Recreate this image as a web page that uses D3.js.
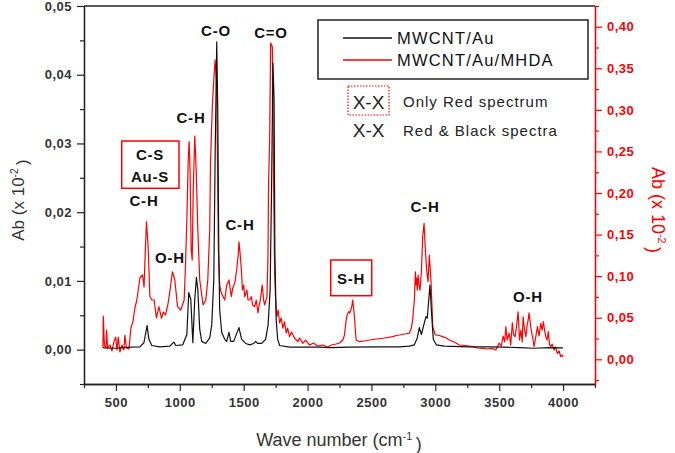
<!DOCTYPE html>
<html><head><meta charset="utf-8">
<script src="https://cdn.jsdelivr.net/npm/d3@7"></script>
<style>
body{margin:0;background:#fff;}
svg{display:block;font-family:"Liberation Sans",Arial,sans-serif;}
</style></head>
<body><svg id="c" width="675" height="453"></svg>
<script>
// ---- data ----
const blackWave = [400,492,609,687,719,744,758,781,844,922,953,969,1023,1055,1070,1086,1102,1117,1130,1141,1156,1172,1203,1234,1250,1266,1277,1289,1297,1305,1312,1328,1352,1367,1385,1398,1422,1438,1463,1484,1516,1547,1578,1594,1609,1641,1672,1691,1707,1719,1729,1738,1744,1754,1766,1781,1859,2094,2172,2328,2562,2719,2797,2836,2859,2875,2891,2910,2927,2937,2949,2958,2969,2984,3008,3070,3266,3422,3539,3656,3773,3891,4000];
const blackAb = [0.00025,0.0002,0.00036,0.0004,0.001,0.0035,0.0015,0.0006,0.0004,0.0005,0.0011,0.0006,0.0007,0.0022,0.0083,0.0073,0.001,0.0073,0.0105,0.0087,0.0029,0.0012,0.0009,0.0017,0.0036,0.0102,0.029,0.0448,0.0349,0.0145,0.0058,0.0025,0.0015,0.0012,0.0025,0.0012,0.0012,0.002,0.0032,0.0015,0.0009,0.0007,0.0009,0.0012,0.0009,0.0009,0.0015,0.0036,0.0087,0.0247,0.0417,0.0363,0.0145,0.0044,0.0015,0.0006,0.00036,0.00036,0.0003,0.00036,0.0004,0.0004,0.0005,0.0007,0.0017,0.0032,0.0022,0.0036,0.0048,0.0046,0.0073,0.0094,0.0058,0.0015,0.0007,0.0005,0.0004,0.0004,0.00036,0.0003,0.0002,0.0003,0.00025];

const redWave = [398,401,410,422,427,434,453,469,484,498,508,518,531,547,562,570,582,602,617,633,648,664,687,708,720,730,739,752,766,781,799,817,836,857,871,888,906,922,942,961,982,1007,1034,1044,1055,1066,1073,1080,1089,1097,1105,1117,1128,1141,1156,1182,1203,1219,1234,1240,1255,1266,1276,1287,1295,1302,1312,1326,1352,1367,1385,1403,1414,1430,1445,1457,1463,1474,1482,1490,1500,1508,1525,1534,1547,1560,1570,1586,1598,1612,1621,1630,1645,1656,1664,1682,1690,1695,1703,1711,1724,1729,1734,1742,1750,1760,1770,1781,1793,1807,1820,1833,1844,1859,1875,1898,1912,1924,1937,1963,1984,2016,2047,2078,2120,2156,2188,2224,2250,2276,2289,2302,2312,2322,2331,2341,2347,2353,2358,2367,2380,2406,2445,2484,2539,2588,2625,2666,2695,2719,2758,2797,2812,2823,2830,2836,2844,2849,2854,2859,2865,2873,2880,2891,2901,2912,2922,2932,2943,2953,2967,2980,3000,3031,3057,3086,3109,3148,3188,3234,3291,3328,3370,3406,3445,3474,3500,3516,3531,3543,3552,3562,3578,3590,3603,3613,3625,3637,3648,3659,3670,3680,3687,3698,3709,3719,3727,3734,3745,3755,3766,3773,3785,3799,3812,3825,3836,3846,3855,3865,3875,3885,3894,3904,3914,3930,3941,3955,3969,3982,3992,4000];
const redAb = [0.0136,0.052,0.016,0.0148,0.035,0.0136,0.0172,0.010,0.021,0.0268,0.0112,0.0268,0.0088,0.0172,0.0112,0.029,0.0136,0.0124,0.0376,0.045,0.0617,0.0713,0.0978,0.1014,0.0869,0.131,0.1655,0.1354,0.0753,0.0713,0.0713,0.0497,0.0633,0.0493,0.0569,0.0533,0.0653,0.0813,0.1053,0.0954,0.0633,0.0593,0.0713,0.1114,0.1675,0.2397,0.2617,0.2276,0.1314,0.1194,0.2036,0.2685,0.2276,0.1555,0.0954,0.0653,0.0713,0.0954,0.1555,0.236,0.3058,0.3359,0.36,0.3359,0.2397,0.1314,0.0893,0.0794,0.0713,0.0893,0.0954,0.0753,0.0857,0.0917,0.1074,0.1254,0.1414,0.1234,0.1074,0.0833,0.0893,0.0753,0.0833,0.0713,0.0713,0.0753,0.0653,0.0633,0.0713,0.0557,0.0653,0.0713,0.0893,0.0713,0.0653,0.0753,0.1234,0.2136,0.2637,0.3804,0.3759,0.3202,0.2155,0.1038,0.0713,0.0512,0.0593,0.0437,0.0497,0.0376,0.045,0.0316,0.0376,0.0272,0.0328,0.0253,0.0232,0.0212,0.0256,0.0192,0.0232,0.0172,0.0196,0.016,0.0172,0.0148,0.0172,0.0184,0.0196,0.0232,0.0293,0.0473,0.0545,0.0572,0.0557,0.0613,0.0641,0.0713,0.0653,0.0512,0.0232,0.0212,0.022,0.0232,0.0244,0.0253,0.0262,0.0272,0.0286,0.0292,0.0304,0.0313,0.0376,0.0473,0.0617,0.0713,0.1053,0.0893,0.0974,0.0833,0.1014,0.0893,0.0833,0.1053,0.1474,0.1635,0.1314,0.1074,0.0933,0.1254,0.0914,0.0392,0.0292,0.0286,0.0272,0.0256,0.0232,0.0208,0.0172,0.0166,0.0152,0.0136,0.0132,0.0124,0.0132,0.0112,0.0196,0.016,0.028,0.0208,0.0392,0.0232,0.0316,0.0172,0.0437,0.0292,0.0272,0.0412,0.0572,0.0232,0.0352,0.0208,0.0512,0.0352,0.0272,0.0412,0.0473,0.056,0.0412,0.0313,0.0232,0.0152,0.0256,0.0392,0.028,0.0433,0.0352,0.0452,0.0352,0.0272,0.0232,0.0332,0.0172,0.0152,0.0184,0.0112,0.0148,0.0072,0.01,0.0031,0.0052,0.0028];

const xTicks = [500,1000,1500,2000,2500,3000,3500,4000];
const xMinor = [250,750,1250,1750,2250,2750,3250,3750,4250];
const leftTicks = [0,0.01,0.02,0.03,0.04,0.05];
const leftMinor = [-0.005,0.005,0.015,0.025,0.035,0.045];
const rightTicks = [0,0.05,0.10,0.15,0.20,0.25,0.30,0.35,0.40];
const rightMinor = [-0.025,0.025,0.075,0.125,0.175,0.225,0.275,0.325,0.375,0.425];
const seriesNames = ["MWCNT/Au","MWCNT/Au/MHDA"];

// ---- layout ----
const L=84, R=595, T=6, B=384;
const svg=d3.select("#c");
const x=d3.scaleLinear().domain([250,4250]).range([L,R]);
const yL=d3.scaleLinear().domain([-0.005,0.05]).range([B,T]);
const yR=d3.scaleLinear().domain([-0.0297,0.4249]).range([B,T]);
const comma = f => v => d3.format(f)(v).replace(".",",");

// frame top line
svg.append("line").attr("x1",L).attr("x2",R).attr("y1",T).attr("y2",T).attr("stroke","#222").attr("stroke-width",1.3);

// lines
const redPts = redWave.map((w,i)=>[w,redAb[i]]);
const blkPts = blackWave.map((w,i)=>[w,blackAb[i]]);
svg.append("path").attr("d",d3.line().x(d=>x(d[0])).y(d=>yR(d[1]))(redPts))
  .attr("fill","none").attr("stroke","#ff0000").attr("stroke-width",1.2).attr("stroke-linejoin","round");
svg.append("path").attr("d",d3.line().x(d=>x(d[0])).y(d=>yL(d[1]))(blkPts))
  .attr("fill","none").attr("stroke","#111").attr("stroke-width",1.2).attr("stroke-linejoin","round");

function styleAxis(g,color){
  g.select(".domain").attr("stroke",color).attr("stroke-width",1.3);
  g.selectAll(".tick line").attr("stroke",color).attr("stroke-width",1.2);
}
// bottom
const gx=svg.append("g").attr("transform",`translate(0,${B})`)
  .call(d3.axisBottom(x).tickValues(xTicks).tickSize(7).tickPadding(7).tickFormat(d3.format("d")).tickSizeOuter(0));
styleAxis(gx,"#222");
gx.selectAll("text").attr("font-size",13).attr("fill","#333").attr("font-weight","bold").style("letter-spacing","0.5px");
const gxm=svg.append("g").attr("transform",`translate(0,${B})`)
  .call(d3.axisBottom(x).tickValues(xMinor).tickSize(4).tickFormat("").tickSizeOuter(0));
styleAxis(gxm,"#222");
// left
const gl=svg.append("g").attr("transform",`translate(${L},0)`)
  .call(d3.axisLeft(yL).tickValues(leftTicks).tickSize(7).tickPadding(5).tickFormat(comma(".2f")).tickSizeOuter(0));
styleAxis(gl,"#222");
gl.selectAll("text").attr("font-size",13).attr("fill","#333").attr("font-weight","bold").style("letter-spacing","0.5px");
const glm=svg.append("g").attr("transform",`translate(${L},0)`)
  .call(d3.axisLeft(yL).tickValues(leftMinor).tickSize(4).tickFormat("").tickSizeOuter(0));
styleAxis(glm,"#222");
// right
const gr=svg.append("g").attr("transform",`translate(${R},0)`)
  .call(d3.axisRight(yR).tickValues(rightTicks).tickSize(7).tickPadding(5).tickFormat(comma(".2f")).tickSizeOuter(0));
styleAxis(gr,"#ff0000");
gr.selectAll("text").attr("font-size",13).attr("fill","#ff0000").attr("font-weight","bold").style("letter-spacing","0.5px");
const grm=svg.append("g").attr("transform",`translate(${R},0)`)
  .call(d3.axisRight(yR).tickValues(rightMinor).tickSize(4).tickFormat("").tickSizeOuter(0));
styleAxis(grm,"#ff0000");

// axis titles
function supTitle(g,base,sup,end){
  g.append("tspan").text(base);
  g.append("tspan").text(sup).attr("font-size","0.6em").attr("dy","-0.55em");
  g.append("tspan").text(end).attr("dy","0.55em");
}
const tl=svg.append("text").attr("transform","translate(24,200) rotate(-90)").attr("text-anchor","middle")
  .attr("font-size",17).attr("fill","#333");
supTitle(tl,"Ab (x 10","-2","\u2009)");
const tr=svg.append("text").attr("transform","translate(652,210) rotate(90)").attr("text-anchor","middle")
  .attr("font-size",18).attr("fill","#ff0000");
supTitle(tr,"Ab (x 10","-2","\u2009)");
const tx=svg.append("text").attr("x",339).attr("y",446).attr("text-anchor","middle")
  .attr("font-size",18).attr("fill","#333");
supTitle(tx,"Wave number (cm","-1","\u2009)");

// legend
svg.append("rect").attr("x",318).attr("y",20).attr("width",270).attr("height",59)
  .attr("fill","#fff").attr("stroke","#222").attr("stroke-width",1.5);
const legColors=["#111","#ff0000"];
seriesNames.forEach((n,i)=>{
  const yy=38+i*22;
  svg.append("line").attr("x1",343).attr("x2",392).attr("y1",yy).attr("y2",yy).attr("stroke",legColors[i]).attr("stroke-width",1.3);
  svg.append("text").attr("x",397).attr("y",yy+6).attr("font-size",16.5).attr("fill","#111")
    .style("letter-spacing","1.2px").text(n);
});
svg.append("rect").attr("x",348).attr("y",86).attr("width",41).attr("height",29)
  .attr("fill","none").attr("stroke","#ff0000").attr("stroke-width",1.2).attr("stroke-dasharray","1.5,1.5");
svg.append("text").attr("x",368.5).attr("y",109).attr("text-anchor","middle").attr("font-size",19).attr("fill","#222").text("X-X");
svg.append("text").attr("x",403).attr("y",106.5).attr("font-size",15).attr("fill","#222").style("letter-spacing","1px").text("Only Red spectrum");
svg.append("text").attr("x",368.7).attr("y",137).attr("text-anchor","middle").attr("font-size",19).attr("fill","#222").text("X-X");
svg.append("text").attr("x",403).attr("y",135.5).attr("font-size",15).attr("fill","#222").style("letter-spacing","1px").text("Red & Black spectra");

// annotations
const ann=[
  {t:"C-O",x:216,y:31},{t:"C=O",x:271,y:33},{t:"C-H",x:191,y:118},
  {t:"C-H",x:144,y:201},{t:"C-H",x:240,y:225},{t:"O-H",x:170,y:258},
  {t:"C-H",x:425,y:207},{t:"O-H",x:528,y:297},
  {t:"C-S",x:150,y:155},{t:"Au-S",x:150,y:177},{t:"S-H",x:351,y:279}
];
ann.forEach(a=>svg.append("text").attr("x",a.x).attr("y",a.y).attr("dy","0.36em").attr("text-anchor","middle")
  .attr("font-size",15).attr("font-weight","bold").attr("fill","#111").style("letter-spacing","0.8px").text(a.t));
svg.append("rect").attr("x",121.7).attr("y",141).attr("width",57.3).attr("height",47.3).attr("fill","none").attr("stroke","#ff0000").attr("stroke-width",1.5);
svg.append("rect").attr("x",330.7).attr("y",260).attr("width",41).attr("height",35.7).attr("fill","none").attr("stroke","#ff0000").attr("stroke-width",1.5);
</script></body></html>
